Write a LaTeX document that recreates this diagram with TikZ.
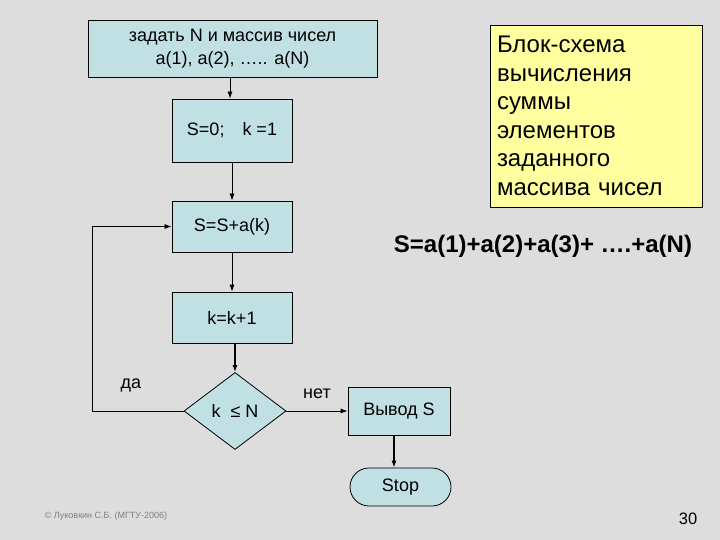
\documentclass[tikz,border=0pt]{standalone}
\usepackage{fontspec}
\setmainfont{Liberation Sans}
\usetikzlibrary{arrows.meta}
\usetikzlibrary{shapes.geometric}
\usetikzlibrary{calc}

\definecolor{bgray}{RGB}{221,221,221}
\definecolor{bcyan}{RGB}{192,224,228}
\definecolor{byellow}{RGB}{255,255,160}

\tikzset{
	blk/.style={draw,fill=bcyan,line width=0.8pt,inner sep=0pt,align=center,font=\fontsize{18}{23}\selectfont},
	cond/.style={draw,fill=bcyan,shape=diamond,line width=0.8pt,inner sep=0pt,font=\fontsize{18}{22}\selectfont},
	term/.style={draw,fill=bcyan,line width=0.8pt,rounded corners=19pt,inner sep=0pt,font=\fontsize{18}{22}\selectfont},
	lbl/.style={font=\fontsize{18}{22}\selectfont}
}

\begin{document}
\begin{tikzpicture}[x=1pt,y=-1pt,>/.tip={Latex[length=7pt,width=5pt]}]
	\fill[bgray] (0,0) rectangle (720,540);
	\useasboundingbox (0,0) rectangle (720,540);
	\draw (232.5,48.5) node(top) [blk,minimum width=289pt,minimum height=57pt] {задать N и массив чисел\\a(1), a(2), ….. a(N)};
	\draw (232,130.5) node(init) [blk,minimum width=120pt,minimum height=63pt] {S=0;\quad k =1};
	\draw (232,226.5) node(sum) [blk,minimum width=120pt,minimum height=51pt] {S=S+a(k)};
	\draw (232,317.5) node(inc) [blk,minimum width=120pt,minimum height=51pt] {k=k+1};
	\draw (235,411) node(cond) [cond,minimum width=102pt,minimum height=77pt] {k\ \ ≤ N};
	\draw (399,411) node(out) [blk,minimum width=102pt,minimum height=48pt] {Вывод S};
	\draw (400.5,487) node(stop) [term,minimum width=101pt,minimum height=38pt] {Stop};
	\node(note) [draw,fill=byellow,line width=0.8pt,minimum width=212pt,minimum height=182pt,text width=198pt,inner sep=7pt,align=left,font=\fontsize{24}{28.5}\selectfont] at (596,116) {Блок-схема\\вычисления\\суммы\\элементов\\заданного\\массива чисел};
	\node(sumf) [font=\bfseries\fontsize{24}{28}\selectfont] at (543,246) {S=a(1)+a(2)+a(3)+ ….+a(N)};
	\node(yes) [lbl] at (131,385) {да};
	\node(no) [lbl] at (317,394) {нет};
	\node(copy) [text=gray,font=\fontsize{9}{11}\selectfont] at (106,516) {© Луковкин С.Б. (МГТУ-2006)};
	\node(page) [font=\fontsize{16.5}{19}\selectfont] at (688,519) {30};
	\draw[->,line width=0.8pt] (top.south -| 230,0) -- (init.north -| 230,0);
	\draw[->,line width=0.8pt] (init) -- (sum);
	\draw[->,line width=0.8pt] (sum) -- (inc);
	\draw[->,line width=1.5pt] ($(inc.south)+(3,0)$) -- (cond.north);
	\draw[->,line width=0.8pt] (cond.west) -- ++(-91,0) |- (sum.west);
	\draw[->,line width=0.8pt] (cond.east) -- (out.west);
	\draw[->,line width=1.5pt] ($(out.south)+(-5,0)$) -- ($(stop.north)+(-6.5,0)$);
\end{tikzpicture}
\end{document}
